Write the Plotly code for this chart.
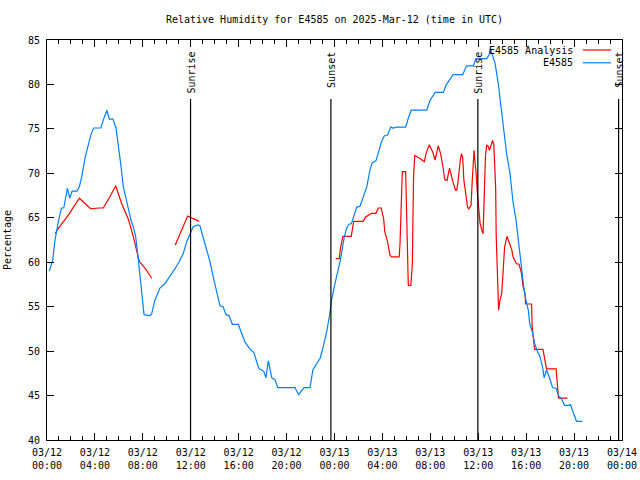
import pandas as pd
import plotly.graph_objects as go

# ---------------- data ----------------
BASE = "2025-03-12 00:00"

station_hours = [0.19, 0.47, 0.67, 0.8, 0.95, 1.2, 1.4, 1.7, 1.9, 2.1, 2.5, 2.7, 2.9, 3.2, 3.45, 3.7, 3.9,
                 4.5, 4.7, 5.0, 5.2, 5.5, 5.76, 5.95, 6.15, 6.37, 6.6, 6.8, 7.0, 7.2, 7.4, 7.6, 7.76, 7.9,
                 8.1, 8.6, 8.74, 9.0, 9.43, 9.85, 10.27, 10.7, 11.05, 11.38, 11.66, 11.94, 12.2, 12.6,
                 12.77, 13.05, 13.33, 13.6, 13.9, 14.17, 14.44, 14.7, 14.94, 15.2, 15.47, 15.97, 16.25,
                 16.53, 16.9, 17.28, 17.5, 17.7, 17.9, 18.1, 18.28, 18.47, 18.6, 18.76, 19.03, 19.26,
                 20.7, 21.0, 21.45, 21.95, 22.2, 22.5, 22.8, 23.06, 23.35, 23.57, 23.76, 24.04, 24.3,
                 24.5, 24.8, 25.0, 25.2, 25.4, 25.6, 25.85, 26.13, 26.4, 26.7, 26.96, 27.15, 27.46,
                 27.65, 27.94, 28.15, 28.43, 28.7, 28.9, 29.2, 29.94, 30.16, 30.4, 31.7, 31.97, 32.4,
                 33.1, 33.3, 33.9, 34.7, 34.9, 35.03, 35.6, 35.8, 36.7, 36.9, 37.0, 37.2, 37.4, 37.67,
                 37.87, 38.04, 38.1, 38.37, 38.65, 38.9, 39.15, 39.4, 39.6, 39.8, 39.97, 40.18, 40.3,
                 40.55, 40.7, 40.9, 41.15, 41.37, 41.5, 41.7, 42.0, 42.2, 42.5, 42.7, 42.96, 43.2,
                 43.6, 43.7, 43.9, 44.2, 44.7]
station_rh = [59.0, 60.2, 62.5, 63.6, 64.6, 66.1, 66.1, 68.3, 67.2, 68.0, 68.0, 68.5, 69.6, 71.9, 73.2, 74.5, 75.1,
              75.1, 76.0, 77.1, 76.1, 76.1, 75.1, 73.4, 71.1, 68.5, 67.0, 65.7, 64.8, 64.0, 62.9, 60.6, 58.4, 56.1,
              54.1, 54.0, 54.2, 55.7, 57.1, 57.6, 58.4, 59.3, 60.1, 61.0, 62.3, 63.2, 64.0, 64.2,
              64.1, 62.7, 61.4, 60.1, 58.2, 56.5, 55.1, 55.0, 54.1, 54.0, 53.0, 53.0, 52.0,
              51.0, 50.3, 49.8, 48.8, 48.0, 47.9, 47.7, 47.0, 48.9, 48.1, 47.0, 46.8, 45.9,
              45.9, 45.1, 45.9, 45.9, 47.9, 48.6, 49.2, 50.5, 52.2, 53.9, 55.8, 57.6, 59.1,
              60.3, 62.7, 63.8, 64.3, 64.3, 65.1, 66.2, 66.3, 67.4, 68.5, 70.4, 71.2, 71.4,
              72.4, 73.6, 74.2, 74.3, 75.2, 75.1, 75.2, 75.2, 76.2, 77.1, 77.1, 78.2, 79.1,
              79.1, 79.9, 81.1, 81.1, 81.6, 82.1, 82.1, 82.9, 82.9, 83.3, 84.0, 83.3, 82.4, 80.1,
              77.9, 76.0, 75.2, 72.2, 70.0, 66.8, 64.8, 61.8, 59.9, 57.2, 55.8, 54.6, 53.1,
              52.0, 50.9, 50.1, 49.4, 48.2, 47.0, 47.9, 46.8, 45.9, 45.8, 45.0, 44.6, 43.9,
              43.9, 44.0, 43.2, 42.1, 42.1]

analysis_hours = [0.67, 0.95, 1.78, 2.7, 3.17, 3.67, 4.3, 4.7, 5.26, 5.73, 6.23, 6.8, 7.2, 7.5, 7.7, 8.26, 8.74,
                  9.7,
                  10.7, 11.74, 12.2, 12.7,
                  18.0,
                  24.1, 24.4, 24.5, 24.7, 25.4, 25.6, 26.4, 26.6, 27.1, 27.46, 27.65, 27.9, 28.1, 28.2,
                  28.43, 28.63, 28.77, 29.4, 29.47, 29.55, 29.66, 29.94, 30.03, 30.16, 30.38, 30.5,
                  30.6, 30.7, 31.1, 31.5, 31.64, 31.9, 32.2, 32.4, 32.66, 32.86, 33.07, 33.2, 33.4,
                  33.6, 33.85, 34.1, 34.2, 34.3, 34.5, 34.6, 34.7, 34.8, 34.95, 35.1, 35.2, 35.4,
                  35.5, 35.65, 35.7, 35.8, 35.95, 36.06, 36.15, 36.3, 36.4, 36.5, 36.6, 36.7, 36.84,
                  36.93, 37.07, 37.2, 37.3, 37.45, 37.5, 37.6, 37.7, 37.8, 37.96, 38.1, 38.2, 38.4,
                  38.6, 38.8, 38.9, 39.2, 39.4, 39.6, 39.75, 39.9, 39.95, 40.45, 40.5, 40.7, 41.4,
                  41.55, 41.7, 42.5, 42.6, 42.7, 43.45]
analysis_rh = [63.2, 63.8, 65.3, 67.2, 66.6, 66.0, 66.1, 66.1, 67.4, 68.6, 66.6, 64.8, 62.9, 61.2, 60.1, 59.2, 58.2,
               None,
               61.9, 65.2, 64.9, 64.6,
               None,
               60.4, 60.4, 61.6, 62.9, 62.9, 64.6, 64.6, 65.1, 65.5, 65.5, 66.1, 66.1, 64.9, 63.4,
               62.3, 60.8, 60.6, 60.6, 62.1, 65.3, 70.2, 70.2, 63.8, 57.4, 57.4, 59.9,
               69.6, 72.0, 71.7, 71.3, 72.2, 73.2, 72.4, 71.5, 73.1, 72.2, 70.6, 69.3, 69.2,
               70.6, 69.2, 68.1, 68.1, 68.9, 71.5, 72.2, 71.8, 69.2, 67.8, 66.2, 66.0, 66.4,
               69.2, 72.6, 71.7, 70.4, 67.4, 65.9, 64.4, 63.6, 63.2, 67.4, 71.9, 73.2, 73.0,
               72.6, 73.2, 73.7, 73.2, 68.5, 62.9, 57.4, 54.6, 55.6, 56.5, 59.5, 61.7, 62.9,
               62.1, 61.4, 60.6, 59.8, 59.8, 58.8, 57.2, 56.5, 55.3, 55.3, 52.8, 50.2, 50.2,
               49.2, 48.0, 48.0, 46.4, 44.7, 44.7]

sun_times = ["2025-03-12 11:59", "2025-03-12 23:42", "2025-03-13 11:58", "2025-03-13 23:43"]
sun_labels = ["Sunrise", "Sunset", "Sunrise", "Sunset"]

tick_times = pd.date_range("2025-03-12 00:00", "2025-03-14 00:00", freq="4h")
tick_text = [t.strftime("%m/%d") + "<br>" + t.strftime("%H:%M") for t in tick_times]
y_ticks = list(range(40, 90, 5))

title = "Relative Humidity for E4585 on 2025-Mar-12 (time in UTC)"
series_names = ["E4585 Analysis", "E4585"]
series_colors = ["#ff0000", "#0080ff"]

# ---------------- figure ----------------
base = pd.Timestamp(BASE)
st_x = base + pd.to_timedelta(station_hours, unit="h")
an_x = base + pd.to_timedelta(analysis_hours, unit="h")

FONT = "DejaVu Sans Mono"
fig = go.Figure()
fig.add_trace(go.Scatter(x=an_x, y=analysis_rh, mode="lines", name=series_names[0],
                         line=dict(color=series_colors[0], width=1.2), connectgaps=False,
                         showlegend=False))
fig.add_trace(go.Scatter(x=st_x, y=station_rh, mode="lines", name=series_names[1],
                         line=dict(color=series_colors[1], width=1.2), showlegend=False))

for t, lab in zip(sun_times, sun_labels):
    fig.add_shape(type="line", xref="x", yref="paper", x0=t, x1=t, y0=0, y1=0.8525,
                  line=dict(color="black", width=1.2), layer="above")
    fig.add_annotation(x=t, xref="x", y=0.975, yref="paper", text=lab, textangle=-90,
                       showarrow=False, yanchor="top", xanchor="center",
                       font=dict(family=FONT, size=10, color="black"))

# legend (gnuplot style: right-aligned text then line sample)
for i, (nm, col) in enumerate(zip(series_names, series_colors)):
    yy = 0.975 - i * 0.032
    fig.add_annotation(x=0.919, xref="paper", y=yy, yref="paper", text=nm, showarrow=False,
                       xanchor="right", yanchor="middle",
                       font=dict(family=FONT, size=10, color="black"))
    fig.add_shape(type="line", xref="paper", yref="paper", x0=0.932, x1=0.981, y0=yy, y1=yy,
                  line=dict(color=col, width=1.2))

fig.update_layout(
    width=640, height=480,
    margin=dict(l=47, r=18, t=40, b=40, pad=0, autoexpand=False),
    paper_bgcolor="white", plot_bgcolor="white",
    font=dict(family=FONT, size=10, color="black"),
    title=dict(text=title, x=0.5, xref="paper", y=1 - 19 / 480, yref="container",
               xanchor="center", yanchor="middle",
               font=dict(family=FONT, size=10, color="black")),
)
fig.update_xaxes(type="date", range=["2025-03-12 00:00", "2025-03-14 00:00"],
                 tickmode="array", tickvals=tick_times, ticktext=tick_text,
                 ticks="inside", ticklen=7, tickwidth=1, tickcolor="black",
                 minor=dict(ticks="inside", ticklen=4, dtick=3600000, tickcolor="black", showgrid=False),
                 showline=True, linecolor="black", linewidth=1, mirror="ticks",
                 showgrid=False, zeroline=False, automargin=False, ticklabelstandoff=3,
                 tickfont=dict(family=FONT, size=10))
fig.update_yaxes(range=[40, 85], tickmode="array", tickvals=y_ticks,
                 ticks="inside", ticklen=7, tickwidth=1, tickcolor="black",
                 showline=True, linecolor="black", linewidth=1, mirror="ticks",
                 showgrid=False, zeroline=False, automargin=False, ticklabelstandoff=4,
                 tickfont=dict(family=FONT, size=10),
                 title=dict(text="Percentage", font=dict(family=FONT, size=10), standoff=14))

# remove the browser's default 8px body margin so the 640x480 figure fills the window
fig.write_html("out.html",
               config={"displayModeBar": False},
               post_script="document.body.style.margin='0';"
                           "document.documentElement.style.overflow='hidden';")
